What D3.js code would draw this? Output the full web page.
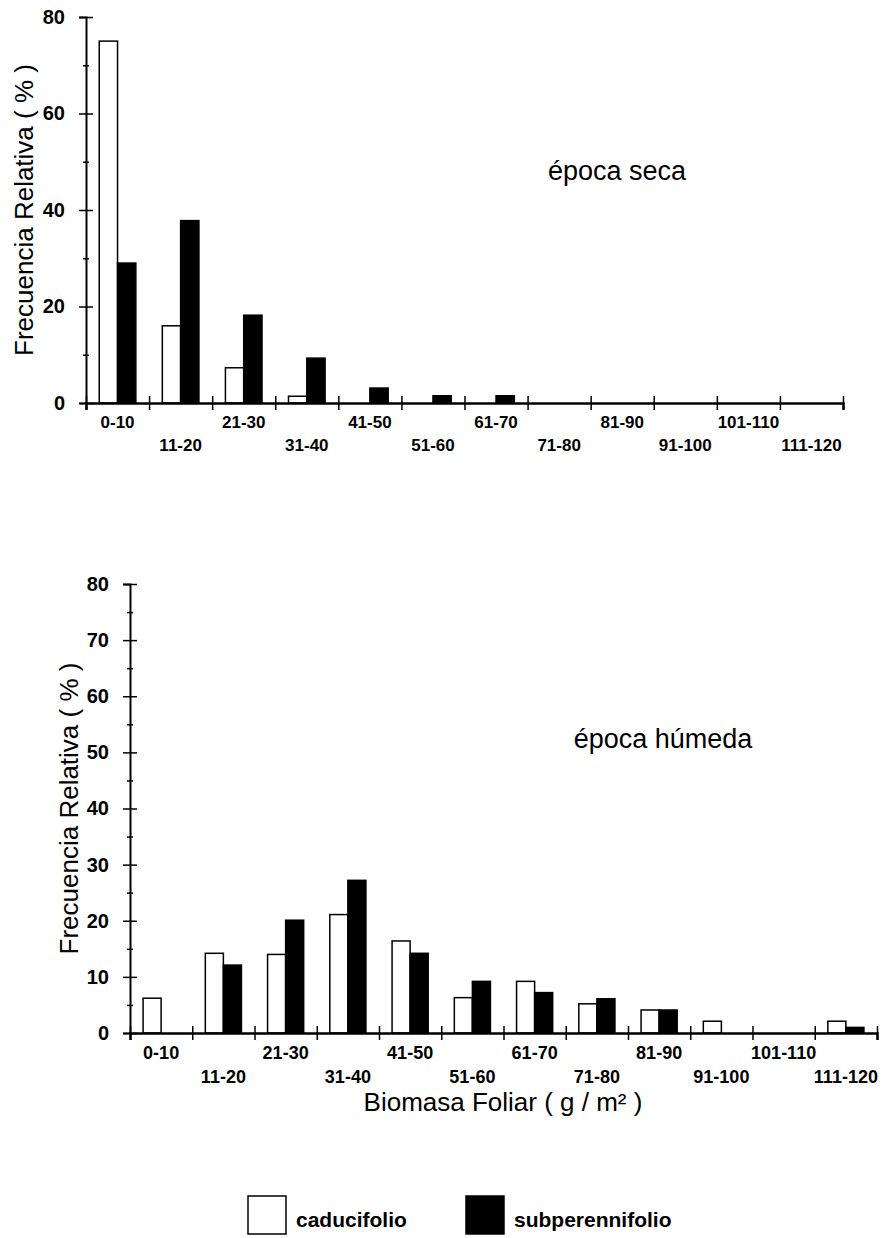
<!DOCTYPE html>
<html><head><meta charset="utf-8">
<script src="https://cdn.jsdelivr.net/npm/d3@7"></script>
<style>
body{margin:0;background:#fff;}
svg{display:block;}
text{font-family:"Liberation Sans",Arial,sans-serif;fill:#000;}
</style></head>
<body>
<svg id="c" width="887" height="1238"></svg>
<script>
const categories = ["0-10","11-20","21-30","31-40","41-50","51-60","61-70","71-80","81-90","91-100","101-110","111-120"];
const series = ["caducifolio","subperennifolio"];
const secaCaducifolio = [75, 16, 7.3, 1.4, 0, 0, 0, 0, 0, 0, 0, 0];
const secaSubperennifolio = [29, 37.8, 18.2, 9.3, 3.1, 1.5, 1.5, 0, 0, 0, 0, 0];
const humedaCaducifolio = [6.2, 14.2, 14, 21.1, 16.4, 6.3, 9.2, 5.2, 4.1, 2.1, 0, 2.1];
const humedaSubperennifolio = [0, 12.1, 20.1, 27.2, 14.2, 9.2, 7.2, 6.1, 4.1, 0, 0, 1];
const secaYTicks = [0, 20, 40, 60, 80];
const secaYMinor = [10, 30, 50, 70];
const humedaYTicks = [0, 10, 20, 30, 40, 50, 60, 70, 80];
const humedaYMinor = [5, 15, 25, 35, 45, 55, 65, 75];
const yLabel = "Frecuencia Relativa ( % )";
const xLabel = "Biomasa Foliar ( g / m² )";
const fills = {caducifolio: "#fff", subperennifolio: "#000"};

const svg = d3.select("#c");

function panel(cfg) {
  const g = svg.append("g");
  const x0 = d3.scaleBand().domain(categories).range([cfg.left, cfg.right]).paddingInner(0.42).paddingOuter(0.21);
  const x1 = d3.scaleBand().domain(series).range([0, x0.bandwidth()]);
  const xb = d3.scaleLinear().domain([0, categories.length]).range([cfg.left, cfg.right]);
  const y = d3.scaleLinear().domain([0, 80]).range([cfg.bottom, cfg.top]);

  const rows = categories.map((c, i) => ({cat: c, vals: [
    {s: "caducifolio", v: cfg.a[i]}, {s: "subperennifolio", v: cfg.b[i]}]}));

  // bars
  g.selectAll("g.grp").data(rows).join("g")
    .attr("transform", d => `translate(${x0(d.cat)},0)`)
    .selectAll("rect").data(d => d.vals.filter(v => v.v > 0)).join("rect")
    .attr("x", d => x1(d.s)).attr("width", x1.bandwidth())
    .attr("y", d => y(d.v)).attr("height", d => y(0) - y(d.v))
    .attr("fill", d => fills[d.s]).attr("stroke", "#000").attr("stroke-width", 1.5);

  // y axis major
  const ya = g.append("g").attr("transform", `translate(${cfg.left},0)`)
    .call(d3.axisLeft(y).tickValues(cfg.yt).tickSize(7).tickPadding(cfg.ypad).tickFormat(d3.format("d")));
  ya.select(".domain").attr("stroke-width", 2);
  ya.selectAll(".tick line").attr("x1", 7).attr("stroke-width", 1.5);
  ya.selectAll(".tick text").style("font-size", cfg.yfs + "px").style("font-weight", "bold").attr("font-family", null);
  // y minor
  const ym = g.append("g").attr("transform", `translate(${cfg.left},0)`)
    .call(d3.axisLeft(y).tickValues(cfg.ym).tickSize(3).tickFormat(""));
  ym.select(".domain").remove();
  ym.selectAll(".tick line").attr("x1", 3).attr("stroke-width", 1.5);

  // x axis boundaries
  const xa = g.append("g").attr("transform", `translate(0,${cfg.bottom})`)
    .call(d3.axisBottom(xb).tickValues(d3.range(categories.length + 1)).tickSize(7).tickFormat(""));
  xa.select(".domain").attr("stroke-width", 2.5);
  xa.selectAll(".tick line").attr("y1", -7).attr("stroke-width", 1.5);
  // x labels
  const xl = g.append("g").attr("transform", `translate(0,${cfg.bottom})`)
    .call(d3.axisBottom(x0).tickSize(0).tickPadding(0));
  xl.select(".domain").remove();
  xl.selectAll(".tick text").attr("dy", null)
    .attr("y", (d, i) => i % 2 === 0 ? cfg.row1 : cfg.row2)
    .style("font-size", cfg.xfs + "px").style("font-weight", "bold").attr("font-family", null);

  // y label
  g.append("text").attr("transform", `translate(${cfg.ylx},${(cfg.top + cfg.bottom) / 2 + cfg.yly}) rotate(-90)`)
    .attr("text-anchor", "middle").style("font-size", "26px").text(yLabel);
  // annotation
  g.append("text").attr("x", cfg.annX).attr("y", cfg.annY).attr("text-anchor", "middle")
    .style("font-size", "27px").text(cfg.ann);
  return {x0, y};
}

panel({left: 86, right: 843, top: 17, bottom: 403, a: secaCaducifolio, b: secaSubperennifolio,
  yt: secaYTicks, ym: secaYMinor, ypad: 14, yfs: 20, xfs: 17, row1: 25, row2: 48,
  ylx: 33, yly: 0, ann: "época seca", annX: 617, annY: 180});

panel({left: 130, right: 877, top: 584, bottom: 1033, a: humedaCaducifolio, b: humedaSubperennifolio,
  yt: humedaYTicks, ym: humedaYMinor, ypad: 14, yfs: 20, xfs: 18, row1: 26, row2: 50,
  ylx: 78, yly: 0, ann: "época húmeda", annX: 663, annY: 748});

svg.append("text").attr("x", 503).attr("y", 1111).attr("text-anchor", "middle")
  .style("font-size", "26px").text(xLabel);

// legend
const legend = [{s: series[0], x: 248}, {s: series[1], x: 466}];
const lg = svg.append("g").selectAll("g").data(legend).join("g")
  .attr("transform", d => `translate(${d.x},1196)`);
lg.append("rect").attr("width", 38).attr("height", 38).attr("fill", d => fills[d.s])
  .attr("stroke", "#000").attr("stroke-width", 1.5);
lg.append("text").attr("x", 48).attr("y", 31).style("font-size", "21px").style("font-weight", "bold").text(d => d.s);
</script>
</body></html>
